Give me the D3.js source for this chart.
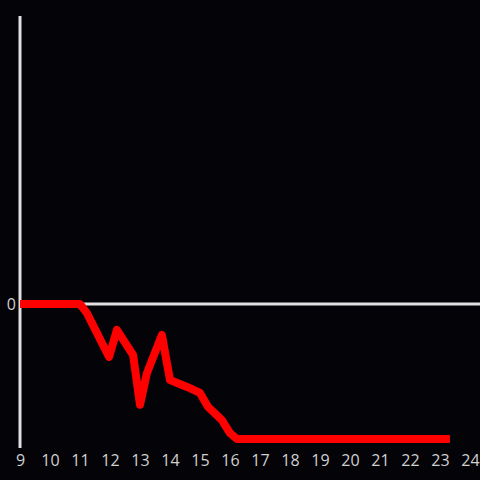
<!DOCTYPE html>
<html><head><meta charset="utf-8">
<script src="https://cdn.jsdelivr.net/npm/d3@7"></script>
<style>html,body{margin:0;padding:0;background:#040307;}svg{display:block;}</style>
</head><body>
<script>
const xTicks = [9,10,11,12,13,14,15,16,17,18,19,20,21,22,23,24];
const yTicks = [0];
const times  = [9.0, 11.0, 11.23, 11.97, 12.23, 12.77, 13.0, 13.23, 13.73, 14.0, 14.57, 15.0, 15.27, 15.73, 16.0, 16.23, 23.33];
const values = [0, 0, -0.63, -3.68, -1.8, -3.54, -7.0, -4.8, -2.15, -5.28, -5.76, -6.18, -7.15, -8.06, -8.96, -9.38, -9.38];

const W = 480, H = 480;
const svg = d3.select("body").append("svg").attr("width", W).attr("height", H);
svg.append("rect").attr("width", W).attr("height", H).attr("fill", "#040307");

const x = d3.scaleLinear().domain([9, 24]).range([20, 470]);
const y = d3.scaleLinear().domain([-10, 20]).range([448, 16]);

svg.append("line").attr("x1", x(9)).attr("x2", x(9)).attr("y1", y(20)).attr("y2", y(-10))
  .attr("stroke", "#e0e0e0").attr("stroke-width", 3);
svg.append("line").attr("x1", x(9)).attr("x2", W).attr("y1", y(0)).attr("y2", y(0))
  .attr("stroke", "#e0e0e0").attr("stroke-width", 3);

const font = "'Open Sans', 'Noto Sans', sans-serif";
const xAxis = d3.axisBottom(x).tickValues(xTicks).tickSize(0).tickPadding(0).tickFormat(d3.format("d"));
const gx = svg.append("g").attr("transform", `translate(0,460)`).call(xAxis);
gx.select(".domain").remove();
gx.selectAll("text").attr("fill", "#d0d0d0").attr("font-family", font).attr("font-size", 16).attr("dy", "0.36em").attr("y", 0);

const yAxis = d3.axisLeft(y).tickValues(yTicks).tickSize(0).tickPadding(0).tickFormat(d3.format("d"));
const gy = svg.append("g").attr("transform", `translate(${x(9)-4},0)`).call(yAxis);
gy.select(".domain").remove();
gy.selectAll("text").attr("fill", "#d0d0d0").attr("font-family", font).attr("font-size", 16).attr("dy", "0.36em");

const data = times.map((t, i) => ({t, v: values[i]}));
svg.append("path").datum(data)
  .attr("d", d3.line().x(d => x(d.t)).y(d => y(d.v)))
  .attr("fill", "none").attr("stroke", "#ff0000").attr("stroke-width", 8)
  .attr("stroke-linejoin", "round").attr("stroke-linecap", "butt");
</script>
</body></html>
